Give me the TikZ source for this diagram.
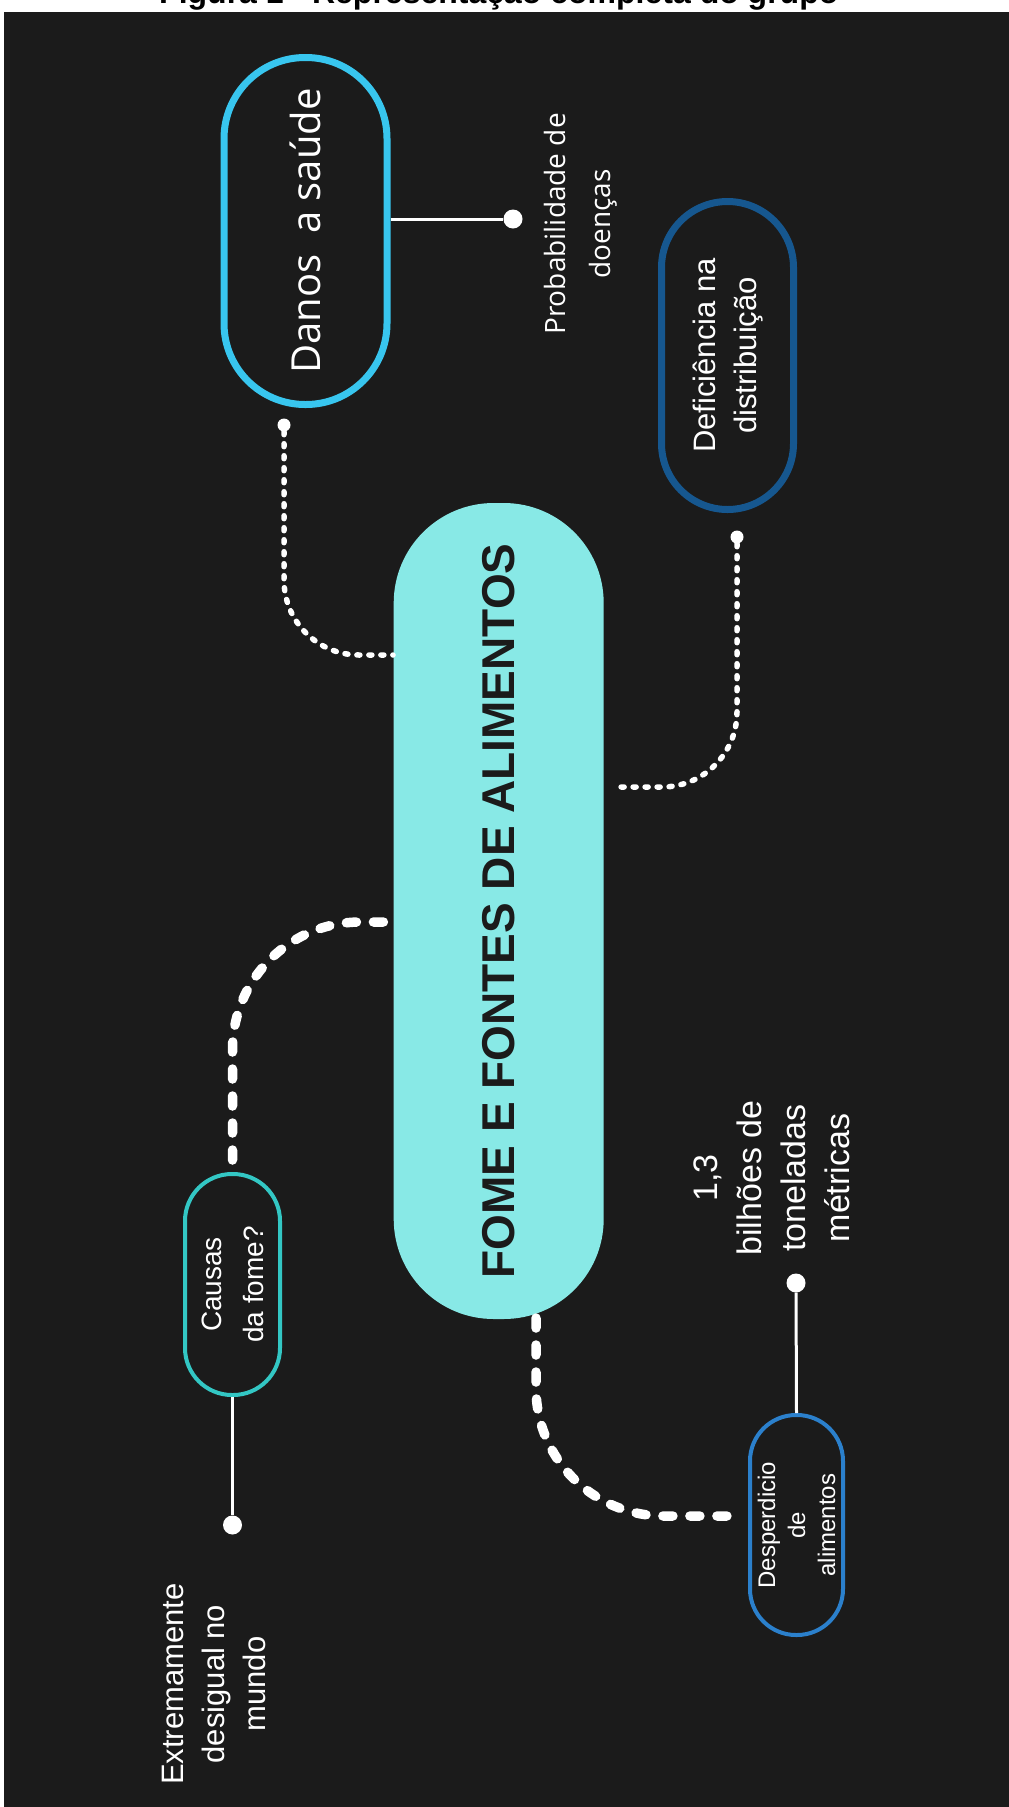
\documentclass[tikz,border=0pt]{standalone}
\usepackage{fontspec}
\setmainfont{Liberation Sans}
\newfontfamily\lightfont{Open Sans}
\usepackage{tikz}
\usetikzlibrary{positioning}

\definecolor{bgdark}{HTML}{1B1B1B}
\definecolor{fomecyan}{HTML}{88E9E6}
\definecolor{danosblue}{HTML}{38C6EF}
\definecolor{defblue}{HTML}{16578F}
\definecolor{causasteal}{HTML}{33C7C4}
\definecolor{despblue}{HTML}{2B80CC}

\begin{document}
\begin{tikzpicture}[x=1pt,y=-1pt,
  pill/.style={draw,rotate=90,align=center,text=white,inner sep=0pt},
  bigdot/.style={circle,fill=white,inner sep=0pt,minimum size=19pt},
  smalldot/.style={circle,fill=white,inner sep=0pt,minimum size=13pt},
  note/.style={rotate=90,align=center,text=white,inner sep=0pt},
  solidlink/.style={white,line width=3pt},
  dotlink/.style={white,line width=5.5pt,line cap=round,dash pattern=on 3pt off 9pt,rounded corners=75pt},
  dashlink/.style={white,line width=9.5pt,line cap=round,dash pattern=on 10pt off 17pt,rounded corners=128pt}]
\useasboundingbox (0,0) rectangle (1009,1807);
\fill[white] (0,0) rectangle (1009,1807);
\fill[bgdark] (4,12) rectangle (1009,1807);
% cut-off caption at the top
\begin{scope}
\clip (0,0) rectangle (1009,12);
\node[anchor=base west,inner sep=0pt,font=\bfseries\fontsize{32}{36}\selectfont] (title) at (159,3) {Figura 1 - Representação completa do grupo};
\end{scope}

% main topic
\node[fill=fomecyan,rotate=90,inner sep=0pt,minimum width=816pt,minimum height=210pt,rounded corners=100pt,text=bgdark,font=\bfseries\fontsize{46}{52}\selectfont] (fome) at (498.7,911) {FOME E FONTES DE ALIMENTOS};
\coordinate (fL) at (393,655);
\coordinate (fR) at (615,787);
\coordinate (fC) at (393,922);
\coordinate (fB) at (536,1318);

% branches
\node[pill,draw=danosblue,line width=7pt,minimum width=347pt,minimum height=163pt,rounded corners=81pt,font=\lightfont\fontsize{40}{48}\selectfont] (danos) at (305.5,231) {Danos~~a saúde};
\node[pill,draw=defblue,line width=7pt,minimum width=308pt,minimum height=132pt,rounded corners=66pt,font=\fontsize{31}{41}\selectfont] (defic) at (727.5,355.5) {Deficiência na\\distribuição};
\node[pill,draw=causasteal,line width=4pt,minimum width=221pt,minimum height=95pt,rounded corners=47pt,font=\fontsize{28}{42}\selectfont] (causas) at (232.5,1284.5) {Causas\\da fome?};
\node[pill,draw=despblue,line width=4pt,minimum width=220pt,minimum height=93pt,rounded corners=46pt,font=\fontsize{24}{30}\selectfont] (desp) at (796.5,1525) {Desperdicio\\de\\alimentos};

% dots
\node[bigdot] (dProb) at (513,219) {};
\node[smalldot] (dDanos) at (284,425) {};
\node[smalldot] (dDef) at (737,537) {};
\node[bigdot] (dCausas) at (232.5,1525) {};
\node[bigdot] (dDesp) at (796,1283) {};

% notes
\node[note,font=\lightfont\fontsize{28}{45}\selectfont] (prob) at (580.5,224) {Probabilidade de\\doenças};
\node[note,font=\fontsize{31}{41}\selectfont] (desigual) at (214,1684) {Extremamente\\desigual no\\mundo};
\node[note,font=\fontsize{34}{44}\selectfont] (bilhoes) at (771.5,1178) {1,3\\bilhões de\\toneladas\\métricas};

% connectors
\draw[solidlink] (danos.south |- dProb) -- (dProb);
\draw[solidlink] (causas.west) -- (dCausas);
\draw[solidlink] (desp.east) -- (dDesp);
\draw[dotlink] (dDanos) |- (fL);
\draw[dotlink] (dDef) |- (fR);
\draw[dashlink,shorten <=12pt] (causas.east) |- (fC);
\draw[dashlink,shorten >=5pt] (fB) |- ([yshift=9pt]desp.north);
\end{tikzpicture}
\end{document}
